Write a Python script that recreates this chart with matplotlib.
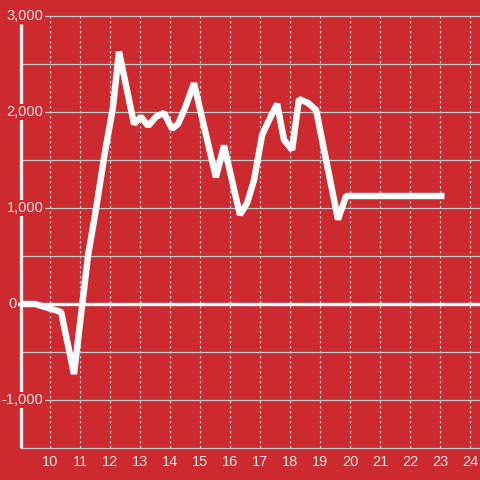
import matplotlib.pyplot as plt
import numpy as np

# values
hours = [9.03, 9.5, 10.37, 10.8, 11.27, 11.53, 11.83, 12.1, 12.3, 12.8,
         13.03, 13.27, 13.53, 13.8, 14.07, 14.27, 14.5, 14.8, 15.53, 15.8,
         16.33, 16.57, 16.8, 17.07, 17.27, 17.57, 17.8, 18.07, 18.3, 18.6,
         18.87, 19.6, 19.87, 23.15]
values = [0, 0, -83, -730, 510, 980, 1580, 2050, 2630, 1875,
          1950, 1855, 1950, 1990, 1825, 1875, 2040, 2300, 1320, 1650,
          930, 1050, 1290, 1760, 1895, 2085, 1710, 1605, 2135, 2095,
          2020, 880, 1125, 1125]

y_ticks = [-1000, 0, 1000, 2000, 3000]
y_labels = ["-1,000", "0", "1,000", "2,000", "3,000"]
x_ticks = list(range(10, 25))

bg = "#cd2a2f"
grid_col = "#c9c9c9"
txt_col = "#f3e3e3"

fig = plt.figure(figsize=(4.8, 4.8), dpi=100, facecolor=bg)
ax = fig.add_axes([0, 0, 1, 1])
ax.set_facecolor(bg)
ax.set_xlim(9 - 20 / 30, 9 + 460 / 30)
ax.set_ylim(-1500 - 32 / 48 * 500, 3000 + 16 / 48 * 500)
ax.axis("off")

axis_x = 9.03
# horizontal grid
ax.hlines(np.arange(-1500, 3001, 500), axis_x, 25, color=grid_col, lw=0.9, zorder=1)
# vertical dotted grid
ax.vlines(x_ticks, -1500, 3000, color=grid_col, lw=0.9, linestyles=(0, (2, 2)), zorder=1)
# zero line and y axis
ax.hlines(0, 8.9, 25, color="white", lw=2.4, zorder=2)
ax.vlines(axis_x, -1500, 2917, color="#eeeeee", lw=2.4, zorder=2)

ax.plot(hours, values, color="white", lw=4.6, solid_joinstyle="bevel",
        solid_capstyle="butt", zorder=3)

for v, lab in zip(y_ticks, y_labels):
    xr = 8.9 if v == 0 else 9.78
    ax.text(xr, v, lab, ha="right", va="center", color=txt_col, fontsize=10.5,
            family="Liberation Sans", zorder=4,
            bbox=dict(facecolor=bg, edgecolor="none", pad=1.0))

for h in x_ticks:
    ax.text(h, -1500 - 14 / 48 * 500, str(h), ha="center", va="center",
            color=txt_col, fontsize=10.5, family="Liberation Sans", zorder=4)

fig.savefig("out.png", dpi=100, facecolor=bg)
